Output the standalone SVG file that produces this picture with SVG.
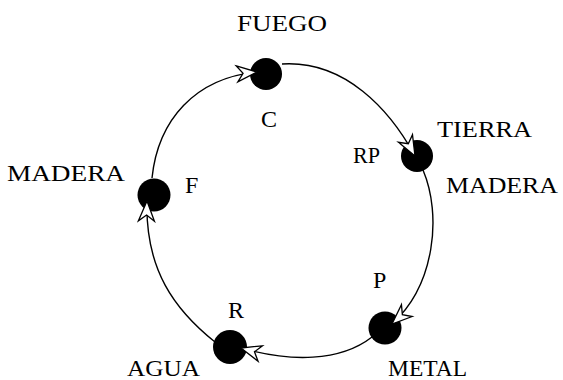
<svg xmlns="http://www.w3.org/2000/svg" width="563" height="380" viewBox="0 0 563 380">
<style>
.node{fill:#000}
.lbl{font-family:"Liberation Serif","Times New Roman",serif;font-size:24px;fill:#000}
.edge{fill:none;stroke:#000;stroke-width:1.4}
</style>
<defs>
<marker id="arr" markerUnits="userSpaceOnUse" markerWidth="24" markerHeight="20" viewBox="-2 -2 24 20" refX="20" refY="8" orient="auto">
<path d="M0,0 L20,8 L0,16 L6,8 Z" fill="#fff" stroke="#000" stroke-width="1.3" stroke-linejoin="miter"/>
</marker>
</defs>
<rect width="563" height="380" fill="#fff"/>
<g id="node-fuego">
<circle class="node" cx="266" cy="74" r="16"/>
<text class="lbl" x="237" y="31" textLength="90" lengthAdjust="spacingAndGlyphs">FUEGO</text>
<text class="lbl" x="261" y="127">C</text>
</g>
<g id="node-tierra">
<circle class="node" cx="417" cy="156" r="16"/>
<text class="lbl" x="437" y="137" textLength="95" lengthAdjust="spacingAndGlyphs">TIERRA</text>
<text class="lbl" x="353" y="163" textLength="27" lengthAdjust="spacingAndGlyphs">RP</text>
<text class="lbl" x="446" y="193" textLength="112" lengthAdjust="spacingAndGlyphs">MADERA</text>
</g>
<g id="node-madera">
<circle class="node" cx="154" cy="195" r="16.5"/>
<text class="lbl" x="7" y="181" textLength="118" lengthAdjust="spacingAndGlyphs">MADERA</text>
<text class="lbl" x="185" y="193">F</text>
</g>
<g id="node-metal">
<circle class="node" cx="385" cy="328" r="16.5"/>
<text class="lbl" x="388" y="376" textLength="79" lengthAdjust="spacingAndGlyphs">METAL</text>
<text class="lbl" x="373" y="288">P</text>
</g>
<g id="node-agua">
<circle class="node" cx="230" cy="347" r="17"/>
<text class="lbl" x="127" y="376" textLength="73" lengthAdjust="spacingAndGlyphs">AGUA</text>
<text class="lbl" x="228" y="318">R</text>
</g>
<g id="connectors">
<path class="edge" d="M152,178 C158,120 195,78 257,72" marker-end="url(#arr)"/>
<path class="edge" d="M282,64 C345,60 390,110 415,156" marker-end="url(#arr)"/>
<path class="edge" d="M423,170 C442,215 435,285 392,324" marker-end="url(#arr)"/>
<path class="edge" d="M372,337 C340,362 290,362 241,348" marker-end="url(#arr)"/>
<path class="edge" d="M215,342 C175,310 145,270 147,201" marker-end="url(#arr)"/>
</g>
</svg>
